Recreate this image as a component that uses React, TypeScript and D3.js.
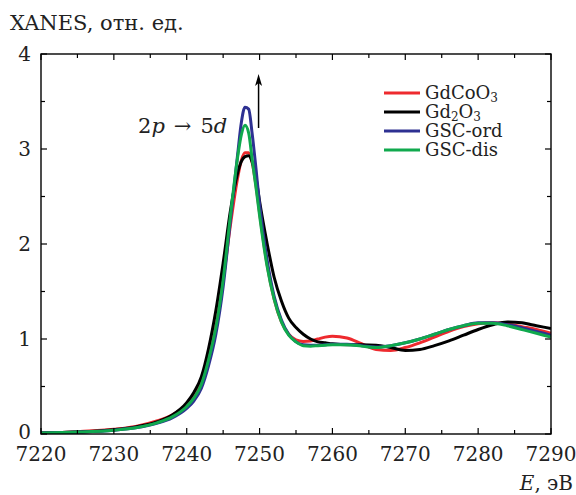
import React from "react";
import * as d3 from "d3";

const energies = [7220, 7225, 7230, 7233, 7236, 7238, 7240, 7241, 7242, 7243, 7244, 7245, 7246, 7247, 7247.5, 7248, 7248.5, 7249, 7249.5, 7250, 7251, 7252, 7253, 7254, 7255, 7256, 7257, 7258, 7259, 7260, 7262, 7264, 7266, 7268, 7270, 7272, 7274, 7276, 7278, 7280, 7282, 7284, 7286, 7288, 7290];

const gdcoo3 = [0.01, 0.025, 0.05, 0.08, 0.14, 0.2, 0.31, 0.4, 0.54, 0.8, 1.15, 1.62, 2.2, 2.7, 2.88, 2.96, 2.96, 2.85, 2.62, 2.33, 1.8, 1.42, 1.18, 1.05, 0.99, 0.975, 0.98, 1.0, 1.02, 1.03, 1.01, 0.95, 0.89, 0.88, 0.91, 0.96, 1.02, 1.08, 1.13, 1.16, 1.17, 1.16, 1.13, 1.1, 1.06];
const gd2o3 = [0.01, 0.02, 0.045, 0.075, 0.13, 0.2, 0.33, 0.44, 0.6, 0.9, 1.3, 1.8, 2.35, 2.75, 2.87, 2.92, 2.93, 2.86, 2.7, 2.45, 2.02, 1.65, 1.4, 1.22, 1.12, 1.05, 1.0, 0.97, 0.96, 0.95, 0.94, 0.94, 0.935, 0.91, 0.88, 0.89, 0.93, 0.98, 1.04, 1.1, 1.15, 1.18, 1.17, 1.14, 1.11];
const gscOrd = [0.01, 0.02, 0.04, 0.065, 0.115, 0.17, 0.27, 0.35, 0.48, 0.72, 1.05, 1.55, 2.25, 2.95, 3.28, 3.44, 3.42, 3.15, 2.8, 2.42, 1.85, 1.45, 1.2, 1.05, 0.97, 0.94, 0.935, 0.935, 0.94, 0.945, 0.945, 0.93, 0.915, 0.93, 0.96, 1.0, 1.05, 1.1, 1.14, 1.17, 1.17, 1.15, 1.12, 1.08, 1.04];
const gscDis = [0.01, 0.02, 0.04, 0.065, 0.12, 0.18, 0.29, 0.38, 0.52, 0.78, 1.12, 1.62, 2.3, 2.92, 3.15, 3.25, 3.17, 2.88, 2.6, 2.3, 1.78, 1.42, 1.18, 1.04, 0.97, 0.93, 0.925, 0.93, 0.935, 0.94, 0.94, 0.925, 0.91, 0.93, 0.96, 1.0, 1.05, 1.1, 1.14, 1.165, 1.165, 1.14, 1.1, 1.06, 1.02];

const seriesNames = ["GdCoO3", "Gd2O3", "GSC-ord", "GSC-dis"];
const seriesValues = [gdcoo3, gd2o3, gscOrd, gscDis];
const seriesColors = ["#ee2a2e", "#000000", "#2e3192", "#10a94e"];

const xTicks = [7220, 7230, 7240, 7250, 7260, 7270, 7280, 7290];
const yTicks = [0, 1, 2, 3, 4];

const W = 576, H = 495;
const L = 41, R = 551, T = 54, B = 434;
const FONT = "DejaVu Serif";

export default function App() {
  const x = d3.scaleLinear().domain([7220, 7290]).range([L, R]);
  const y = d3.scaleLinear().domain([0, 4]).range([B, T]);
  const line = d3.line<number>().x((_, i) => x(energies[i])).y((v) => y(v)).curve(d3.curveMonotoneX);

  const xMinor = d3.range(7225, 7290, 10);
  const yMinor = d3.range(0.5, 4, 1);

  const legendY = [93, 112, 131, 150];

  const renderName = (n: string) => {
    if (n === "GdCoO3") return (<>GdCoO<tspan dy={3} fontSize={12}>3</tspan></>);
    if (n === "Gd2O3") return (<>Gd<tspan dy={3} fontSize={12}>2</tspan><tspan dy={-3}>O</tspan><tspan dy={3} fontSize={12}>3</tspan></>);
    return n;
  };

  const ax = x(7250) - 1;

  return (
    <svg width={W} height={H} fontFamily={FONT} style={{ position: "absolute", left: 0, top: 0, background: "#fff" }}>
      <defs>
        <clipPath id="plot"><rect x={L} y={T} width={R - L} height={B - T} /></clipPath>
      </defs>
      <text x={10} y={30} fontSize={21} fill="#222">XANES, отн. ед.</text>

      <g clipPath="url(#plot)">
        {seriesValues.map((vals, k) => (
          <path key={k} d={line(vals) || ""} fill="none" stroke={seriesColors[k]} strokeWidth={3} strokeLinejoin="round" />
        ))}
      </g>

      <rect x={L} y={T} width={R - L} height={B - T} fill="none" stroke="#000" strokeWidth={1.4} />

      {xTicks.map((t) => (
        <g key={"xt" + t}>
          <line x1={x(t)} x2={x(t)} y1={B} y2={B - 6} stroke="#000" strokeWidth={1.2} />
          <line x1={x(t)} x2={x(t)} y1={T} y2={T + 6} stroke="#000" strokeWidth={1.2} />
          <text x={x(t)} y={461} fontSize={20} textAnchor="middle" fill="#222">{t}</text>
        </g>
      ))}
      {xMinor.map((t) => (
        <g key={"xm" + t}>
          <line x1={x(t)} x2={x(t)} y1={B} y2={B - 4} stroke="#000" strokeWidth={1.2} />
          <line x1={x(t)} x2={x(t)} y1={T} y2={T + 4} stroke="#000" strokeWidth={1.2} />
        </g>
      ))}
      {yTicks.map((t) => (
        <g key={"yt" + t}>
          <line x1={L} x2={L + 6} y1={y(t)} y2={y(t)} stroke="#000" strokeWidth={1.2} />
          <line x1={R} x2={R - 6} y1={y(t)} y2={y(t)} stroke="#000" strokeWidth={1.2} />
          <text x={31} y={y(t) + (t === 0 ? 5 : 7)} fontSize={20} textAnchor="end" fill="#222">{t}</text>
        </g>
      ))}
      {yMinor.map((t) => (
        <g key={"ym" + t}>
          <line x1={L} x2={L + 4} y1={y(t)} y2={y(t)} stroke="#000" strokeWidth={1.2} />
          <line x1={R} x2={R - 4} y1={y(t)} y2={y(t)} stroke="#000" strokeWidth={1.2} />
        </g>
      ))}

      <text x={573} y={490} fontSize={20} textAnchor="end" fill="#222"><tspan fontStyle="italic">E</tspan>, эВ</text>

      <text x={138} y={133} fontSize={21} fill="#222">2<tspan fontStyle="italic">p</tspan><tspan dx={9}>→</tspan><tspan dx={9}>5</tspan><tspan fontStyle="italic">d</tspan></text>
      <line x1={ax} x2={ax} y1={128} y2={82} stroke="#000" strokeWidth={1.5} />
      <path d={`M${ax},74 L${ax - 3.5},86 L${ax},83 L${ax + 3.5},86 Z`} fill="#000" />

      {seriesNames.map((n, k) => (
        <g key={"lg" + n}>
          <line x1={384} x2={420} y1={legendY[k]} y2={legendY[k]} stroke={seriesColors[k]} strokeWidth={3} />
          <text x={425} y={legendY[k] + 6} fontSize={18} fill="#222">{renderName(n)}</text>
        </g>
      ))}
    </svg>
  );
}
